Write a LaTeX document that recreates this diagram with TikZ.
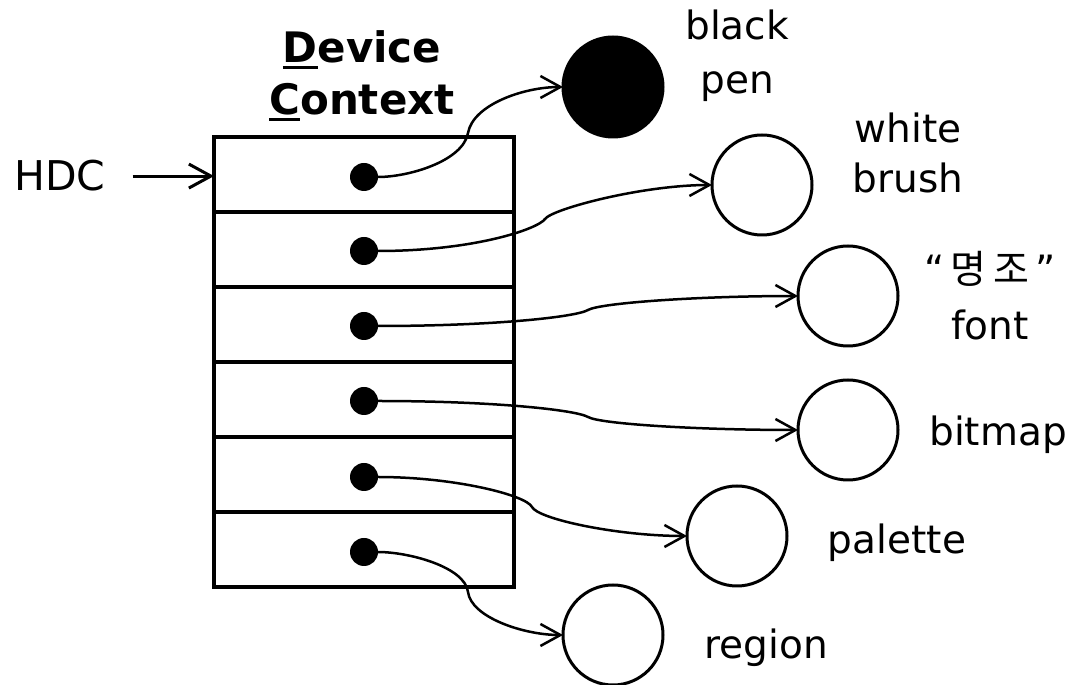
\documentclass[tikz,border=0pt]{standalone}
\usepackage{fontspec}
\setmainfont{DejaVu Sans}
\newfontfamily\krfont{Noto Sans CJK KR}
\usetikzlibrary{arrows.meta}
\newcommand\ulc[1]{\setbox0=\hbox{#1}\rlap{\rule[-6pt]{\wd0}{3pt}}\box0}
\begin{document}
\begin{tikzpicture}[x=1pt,y=1pt,
  row/.style={draw=black, line width=3.5pt, minimum width=300pt, minimum height=75pt, inner sep=0pt, outer sep=0pt},
  dot/.style={circle, fill=black, minimum size=28pt, inner sep=0pt, outer sep=0pt},
  obj/.style={circle, draw=black, line width=3pt, minimum size=100pt, inner sep=0pt, outer sep=0pt},
  link/.style={line width=2.5pt, -{Straight Barb[length=20pt,width=22pt]}},
  hdcarrow/.style={line width=3pt, -{Straight Barb[length=22pt,width=24pt]}, shorten <=27pt},
  lbl/.style={inner sep=0pt, anchor=base, align=center, font=\fontsize{39}{52}\selectfont},
]
\useasboundingbox (0,0) rectangle (1071,685);
% device context rows
\node[row] (r1) at (364,510.5) {};
\node[row] (r2) at (364,435.5) {};
\node[row] (r3) at (364,360.5) {};
\node[row] (r4) at (364,285.5) {};
\node[row] (r5) at (364,210.5) {};
\node[row] (r6) at (364,135.5) {};
% objects
\node[obj, fill=black] (pen) at (613,598) {};
\node[obj] (brush) at (762,500) {};
\node[obj] (font) at (848,389) {};
\node[obj] (bitmap) at (848,255) {};
\node[obj] (palette) at (737,149) {};
\node[obj] (region) at (613,50) {};
% dots
\node[dot] (d1) at (364,508) {};
\node[dot] (d2) at (364,434) {};
\node[dot] (d3) at (364,359) {};
\node[dot] (d4) at (364,284) {};
\node[dot] (d5) at (364,208) {};
\node[dot] (d6) at (364,133) {};
% connectors
\draw[link] (d1) .. controls +(45,0) and +(-5,-28) .. (468,552) .. controls +(5,28) and +(-40,0) .. (pen.west);
\draw[link] (d2) .. controls +(110,0) and +(-7,-10) .. (545,466) .. controls +(7,10) and +(-70,0) .. (brush.west);
\draw[link] (d3) .. controls +(130,0) and +(-12,-7) .. (588,375) .. controls +(12,7) and +(-100,0) .. (font.west);
\draw[link] (d4) .. controls +(130,0) and +(-12,7) .. (588,268) .. controls +(12,-7) and +(-100,0) .. (bitmap.west);
\draw[link] (d5) .. controls +(90,0) and +(-6,12) .. (532,178) .. controls +(6,-12) and +(-70,0) .. (palette.west);
\draw[link] (d6) .. controls +(45,0) and +(-3,25) .. (468,93) .. controls +(3,-25) and +(-40,0) .. (region.west);
% labels (base anchor = baseline of the last line)
\node[lbl, font=\fontsize{42}{52}\selectfont\bfseries] (title) at (362,570) {\ulc{D}evice\\\ulc{C}ontext};
\node[lbl, font=\fontsize{41}{50}\selectfont] (hdc) at (60,494) {HDC};
\draw[hdcarrow] (hdc.east) -- (hdc.east -| r1.west);
\node[lbl, font=\fontsize{39}{54}\selectfont] (lpen) at (737,591) {black\\pen};
\node[lbl, font=\fontsize{39}{50}\selectfont] (lbrush) at (908,492) {white\\brush};
\node[lbl, font=\fontsize{39}{56}\selectfont] (lfont) at (990,345) {“\,{\krfont 명\,조}\,”\\font};
\node[lbl] (lbitmap) at (998,239) {bitmap};
\node[lbl] (lpalette) at (897,131) {palette};
\node[lbl] (lregion) at (766,26) {region};
\end{tikzpicture}
\end{document}
